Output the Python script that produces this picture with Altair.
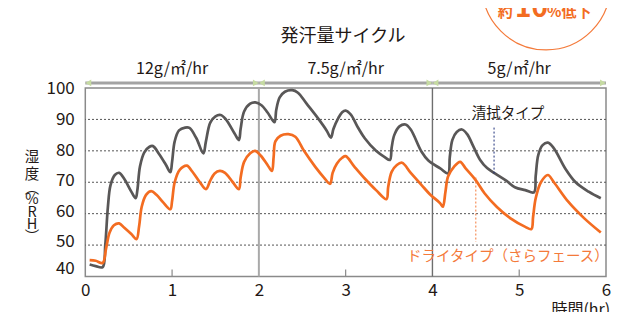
import altair as alt
import pandas as pd

FONT = "Noto Sans CJK JP"
GRAY = "#595757"
ORANGE = "#f36c21"
TXT = "#231815"

# --- data ---
gray_t = [0.05, 0.12, 0.20, 0.23, 0.26, 0.29, 0.34, 0.39, 0.45, 0.53, 0.58, 0.60, 0.63, 0.68, 0.74, 0.78,
          0.85, 0.93, 0.98, 1.00, 1.03, 1.08, 1.15, 1.20, 1.28, 1.36, 1.39, 1.44, 1.50, 1.56, 1.62,
          1.72, 1.77, 1.79, 1.83, 1.90, 1.96, 2.03, 2.10, 2.18, 2.20, 2.24, 2.30, 2.385, 2.45, 2.55,
          2.68, 2.78, 2.83, 2.86, 2.915, 2.96, 3.00, 3.06, 3.14, 3.22, 3.35, 3.45, 3.51, 3.53, 3.56,
          3.62, 3.69, 3.75, 3.875, 3.95, 4.09, 4.18, 4.20, 4.23, 4.28, 4.34, 4.40, 4.47, 4.55, 4.63,
          4.72, 4.85, 4.95, 5.07, 5.17, 5.19, 5.22, 5.27, 5.33, 5.40, 5.53, 5.65, 5.80, 5.94]
gray_v = [43.8, 43.3, 43.0, 50.0, 62.0, 69.0, 72.3, 73.0, 71.0, 67.0, 64.9, 67.5, 75.0, 79.5, 81.3, 81.5,
          79.0, 75.5, 73.2, 76.5, 83.0, 86.5, 87.4, 87.3, 84.0, 79.2, 83.0, 89.0, 91.0, 91.4, 90.0,
          85.5, 83.4, 87.0, 92.5, 95.0, 95.4, 94.5, 92.2, 89.1, 93.0, 97.0, 98.8, 99.3, 98.5, 95.0,
          90.4, 86.5, 84.2, 87.0, 90.4, 92.3, 92.8, 91.5, 87.5, 84.0, 80.0, 78.0, 77.1, 81.0, 85.0,
          87.8, 88.4, 86.8, 79.7, 77.0, 74.4, 72.8, 78.0, 83.5, 86.0, 86.8, 85.3, 81.5, 77.1, 74.5,
          72.8, 70.5, 68.4, 67.5, 66.8, 72.0, 78.7, 81.8, 82.6, 80.8, 74.4, 70.0, 67.0, 64.9]

orange_t = [0.05, 0.12, 0.20, 0.24, 0.28, 0.33, 0.39, 0.45, 0.53, 0.59, 0.62, 0.65, 0.70, 0.76, 0.82, 0.90,
            0.98, 1.00, 1.03, 1.09, 1.17, 1.23, 1.32, 1.39, 1.44, 1.49, 1.55, 1.61, 1.70, 1.77, 1.79,
            1.83, 1.90, 1.955, 2.02, 2.10, 2.15, 2.17, 2.19, 2.25, 2.34, 2.42, 2.52, 2.65, 2.75, 2.82,
            2.85, 2.90, 2.96, 3.00, 3.10, 3.22, 3.35, 3.47, 3.49, 3.53, 3.59, 3.65, 3.75, 3.875, 3.97,
            4.09, 4.12, 4.15, 4.18, 4.25, 4.32, 4.38, 4.49, 4.60, 4.74, 4.90, 5.07, 5.14, 5.16, 5.19,
            5.25, 5.33, 5.40, 5.565, 5.75, 5.94]
orange_v = [45.2, 45.0, 44.3, 49.0, 54.0, 56.3, 56.9, 55.5, 53.5, 51.9, 56.0, 62.2, 66.0, 67.2, 66.0, 63.5,
            61.4, 64.0, 70.0, 74.0, 75.3, 73.5, 70.0, 67.8, 70.5, 72.8, 73.6, 73.0, 70.0, 67.8, 71.5,
            76.5, 79.2, 80.0, 78.5, 75.5, 73.6, 78.0, 83.0, 84.8, 85.3, 84.5, 80.0, 74.9, 71.5, 69.5,
            73.0, 76.0, 77.8, 78.3, 75.0, 71.2, 67.5, 64.6, 68.5, 73.3, 75.5, 76.2, 73.0, 69.1, 66.2,
            63.3, 62.2, 67.0, 71.8, 75.0, 76.5, 74.5, 71.0, 66.5, 62.2, 58.5, 55.8, 55.1, 59.0, 64.9,
            70.0, 72.3, 70.0, 63.8, 58.5, 54.0]

x_ticks = [0, 1, 2, 3, 4, 5, 6]
y_ticks = [40, 50, 60, 70, 80, 90, 100]
grid_vals = [50, 60, 70, 80, 90]
dividers = [2, 4]
inner_ticks = [1, 3, 5]
phase_labels = ["12g/㎡/hr", "7.5g/㎡/hr", "5g/㎡/hr"]
phase_start = [0, 2, 4]
phase_end = [2, 4, 6]
phase_mid = [1, 3, 5]
ytitle_chars = ["湿", "度", "︵", "%", "R", "H", "︶"]
ytitle_pos = [77.7, 72.3, 67.9, 64.3, 60.2, 56.4, 52.3]

xs = alt.Scale(domain=[0, 6], nice=False, zero=False)
ys = alt.Scale(domain=[40, 100], nice=False, zero=False)

x_axis = alt.Axis(values=x_ticks, ticks=False, domain=False, grid=False, labelFontSize=17,
                  labelFont=FONT, labelColor=TXT, labelPadding=6, title=None, labelFlush=False)
y_axis = alt.Axis(values=y_ticks, ticks=False, domain=False, grid=False, labelFontSize=17,
                  labelFont=FONT, labelColor=TXT, labelPadding=11, title=None,
                  labelOffset={"condition": [
                      {"test": "datum.value == 40", "value": -8},
                      {"test": "datum.value == 50", "value": -4},
                      {"test": "datum.value == 60 || datum.value == 70", "value": -2}], "value": 0})


def X(f, **kw):
    return alt.X(f, type="quantitative", scale=xs, axis=x_axis, title=None, **kw)


def Y(f, **kw):
    return alt.Y(f, type="quantitative", scale=ys, axis=y_axis, title=None, **kw)


lines_df = pd.concat([
    pd.DataFrame({"t": gray_t, "v": gray_v, "s": "清拭タイプ"}),
    pd.DataFrame({"t": orange_t, "v": orange_v, "s": "ドライタイプ"}),
])

grid = alt.Chart(pd.DataFrame({"g": grid_vals})).mark_rule(
    color="#555555", strokeDash=[2, 2], strokeWidth=1
).encode(y=Y("g:Q"))

div_df = pd.DataFrame({"d": dividers, "c": ["#a9a9a9", "#6e6e6e"], "w": [2.0, 1.4]})
divs = alt.Chart(div_df).mark_rule().encode(
    x=X("d:Q"), color=alt.Color("c:N", scale=None), strokeWidth=alt.StrokeWidth("w:Q", scale=None)
)

ticks = alt.Chart(pd.DataFrame({"t": inner_ticks, "y0": 40, "y1": 42.2})).mark_rule(
    color="#8a8a8a", strokeWidth=1.2
).encode(x=X("t:Q"), y=Y("y0:Q"), y2="y1:Q")

lines = alt.Chart(lines_df).mark_line(interpolate="catmull-rom", strokeWidth=2.7).encode(
    x=X("t:Q"),
    y=Y("v:Q"),
    color=alt.Color("s:N", scale=alt.Scale(domain=["清拭タイプ", "ドライタイプ"], range=[GRAY, ORANGE]),
                    legend=None),
    detail="s:N",
)

lead_df = pd.DataFrame({"t": [4.71, 4.50], "a": [87.4, 71.5], "b": [72.8, 51.0],
                        "c": ["#1d2f7a", "#f47a3a"]})
leads = alt.Chart(lead_df).mark_rule(strokeDash=[2, 2], strokeWidth=1).encode(
    x=X("t:Q"), y=Y("a:Q"), y2="b:Q", color=alt.Color("c:N", scale=None)
)

arr_df = pd.DataFrame({"a": phase_start, "b": phase_end, "y": 101.6})
arrows = alt.Chart(arr_df).mark_rule(color="#a3a3a3", strokeWidth=3).encode(
    x=X("a:Q"), x2="b:Q", y=Y("y:Q")
)
heads_df = pd.DataFrame({
    "t": [0.035, 1.965, 2.035, 3.965, 4.035, 5.965],
    "y": 101.6,
    "sh": ["triangle-left", "triangle-right"] * 3,
})
heads = alt.Chart(heads_df).mark_point(filled=True, size=45, color="#c6dba2", opacity=1).encode(
    x=X("t:Q"), y=Y("y:Q"), shape=alt.Shape("sh:N", scale=None)
)

phase_txt = alt.Chart(pd.DataFrame({"t": phase_mid, "y": 106.2, "l": phase_labels})).mark_text(
    font=FONT, fontSize=16, color=TXT, baseline="middle"
).encode(x=X("t:Q"), y=Y("y:Q"), text="l:N")

title_txt = alt.Chart(pd.DataFrame({"t": [2.97], "y": [116.1], "l": ["発汗量サイクル"]})).mark_text(
    font=FONT, fontSize=18, color=TXT, baseline="middle"
).encode(x=X("t:Q"), y=Y("y:Q"), text="l:N")

label_df = pd.DataFrame({
    "t": [4.87, 4.87],
    "y": [91.6, 46.3],
    "l": ["清拭タイプ", "ドライタイプ（さらフェース）"],
    "c": [TXT, "#f47a3a"],
})
labels = alt.Chart(label_df).mark_text(font=FONT, fontSize=14.5, baseline="middle").encode(
    x=X("t:Q"), y=Y("y:Q"), text="l:N", color=alt.Color("c:N", scale=None)
)

ytitle = alt.Chart(pd.DataFrame({"t": -0.614, "y": ytitle_pos, "l": ytitle_chars})).mark_text(
    font=FONT, fontSize=14.5, color=TXT, baseline="middle", align="center"
).encode(x=X("t:Q"), y=Y("y:Q"), text="l:N")

xtitle = alt.Chart(pd.DataFrame({"t": [5.71], "y": [31.8], "l": ["時間(hr)"]})).mark_text(
    font=FONT, fontSize=16, color=TXT, baseline="top"
).encode(x=X("t:Q"), y=Y("y:Q"), text="l:N")

circle = alt.Chart(pd.DataFrame({"t": [5.31], "y": [132.5]})).mark_point(
    shape="circle", size=16384, filled=False, color="#f47a3a", strokeWidth=1.2, opacity=1
).encode(x=X("t:Q"), y=Y("y:Q"))

badge_df = pd.DataFrame({
    "t": [4.927, 4.95, 5.32],
    "y": [122.6, 122.6, 122.6],
    "l": ["約", "10", "%低下"],
})
badge_r = alt.Chart(badge_df.iloc[[0]]).mark_text(
    font=FONT, fontSize=15, fontWeight="bold", color=ORANGE, align="right", baseline="alphabetic"
).encode(x=X("t:Q"), y=Y("y:Q"), text="l:N")
badge_n = alt.Chart(badge_df.iloc[[1]]).mark_text(
    font=FONT, fontSize=28, fontWeight="bold", color=ORANGE, align="left", baseline="alphabetic"
).encode(x=X("t:Q"), y=Y("y:Q"), text="l:N")
badge_p = alt.Chart(badge_df.iloc[[2]]).mark_text(
    font=FONT, fontSize=15, fontWeight="bold", color=ORANGE, align="left", baseline="alphabetic"
).encode(x=X("t:Q"), y=Y("y:Q"), text="l:N")

chart = alt.layer(
    grid, divs, ticks, lines, leads, arrows, heads, phase_txt, title_txt, labels,
    ytitle, xtitle, circle, badge_r, badge_n, badge_p
).properties(
    width=520.7, height=188.5,
    autosize=alt.AutoSizeParams(type="none"),
    padding={"left": 77.3, "top": 80, "right": 22, "bottom": 35.5},
).configure_view(
    stroke="#8a8a8a", strokeWidth=1.5
)

chart.save("out.html", embed_options={"renderer": "svg", "actions": False})
